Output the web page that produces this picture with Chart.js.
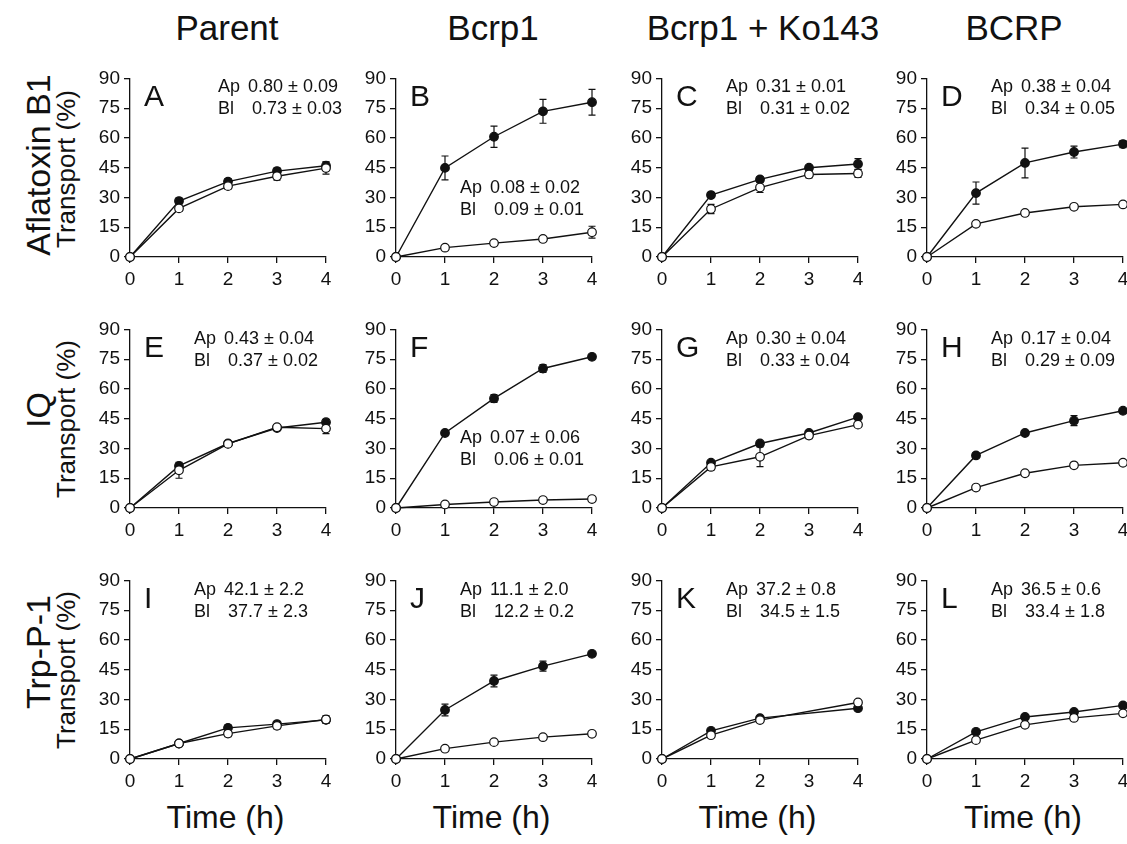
<!DOCTYPE html>
<html><head><meta charset="utf-8">
<script src="https://cdn.jsdelivr.net/npm/chart.js@4/dist/chart.umd.min.js"></script>
<style>
body{margin:0;background:#fff;width:1127px;height:844px;position:relative;overflow:hidden;font-family:"Liberation Sans",Arial,sans-serif;color:#111}
.t{position:absolute;white-space:nowrap;line-height:1;transform:translate(-50%,-50%)}
.r{transform:translate(-50%,-50%) rotate(-90deg)}
.panel{position:absolute}
</style></head><body>
<script>
// ---------------- data ----------------
const timeHours = [0, 1, 2, 3, 4];
const columnTitles = ['Parent', 'Bcrp1', 'Bcrp1 + Ko143', 'BCRP'];
const rowTitles = ['Aflatoxin B1', 'IQ', 'Trp-P-1'];
const yAxisTitle = 'Transport (%)';
const xAxisTitle = 'Time (h)';
const yTicks = [0, 15, 30, 45, 60, 75, 90];
const panelLetters = ['A','B','C','D','E','F','G','H','I','J','K','L'];
const apValues = ['0.80 \u00b1 0.09','0.08 \u00b1 0.02','0.31 \u00b1 0.01','0.38 \u00b1 0.04',
                  '0.43 \u00b1 0.04','0.07 \u00b1 0.06','0.30 \u00b1 0.04','0.17 \u00b1 0.04',
                  '42.1 \u00b1 2.2','11.1 \u00b1 2.0','37.2 \u00b1 0.8','36.5 \u00b1 0.6'];
const blValues = ['0.73 \u00b1 0.03','0.09 \u00b1 0.01','0.31 \u00b1 0.02','0.34 \u00b1 0.05',
                  '0.37 \u00b1 0.02','0.06 \u00b1 0.01','0.33 \u00b1 0.04','0.29 \u00b1 0.09',
                  '37.7 \u00b1 2.3','12.2 \u00b1 0.2','34.5 \u00b1 1.5','33.4 \u00b1 1.8'];

// filled circles / open circles, mean and error (% transport)
const A_filled = [0, 28.2, 38.0, 43.3, 46.0];   const A_filledErr = [0, 1.5, 1.5, 1.5, 2.0];
const A_open   = [0, 24.5, 35.7, 40.7, 44.8];   const A_openErr   = [0, 1.5, 1.5, 2.0, 3.0];
const B_filled = [0, 44.9, 60.6, 73.4, 78.0];   const B_filledErr = [0, 6.0, 5.4, 6.0, 6.5];
const B_open   = [0, 4.7, 7.0, 9.1, 12.5];      const B_openErr   = [0, 0.8, 0.8, 1.0, 3.0];
const C_filled = [0, 31.2, 39.1, 45.0, 46.9];   const C_filledErr = [0, 1.0, 1.2, 1.2, 2.7];
const C_open   = [0, 24.2, 35.0, 41.6, 42.1];   const C_openErr   = [0, 2.3, 2.5, 1.7, 2.0];
const D_filled = [0, 32.2, 47.4, 52.9, 56.9];   const D_filledErr = [0, 5.6, 7.5, 3.0, 1.8];
const D_open   = [0, 16.7, 22.2, 25.3, 26.5];   const D_openErr   = [0, 0.8, 0.8, 0.8, 0.8];
const E_filled = [0, 21.2, 32.5, 40.3, 43.2];   const E_filledErr = [0, 1.0, 1.0, 1.0, 1.5];
const E_open   = [0, 19.0, 32.3, 40.7, 40.0];   const E_openErr   = [0, 4.0, 1.0, 1.0, 2.5];
const F_filled = [0, 37.8, 55.2, 70.3, 76.2];   const F_filledErr = [0, 1.0, 2.0, 2.0, 1.0];
const F_open   = [0, 1.8, 3.0, 4.0, 4.5];       const F_openErr   = [0, 0.3, 0.3, 0.3, 0.3];
const G_filled = [0, 22.8, 32.5, 37.8, 45.8];   const G_filledErr = [0, 1.0, 1.0, 1.0, 1.0];
const G_open   = [0, 20.7, 25.8, 36.5, 42.0];   const G_openErr   = [0, 1.5, 5.0, 1.5, 1.0];
const H_filled = [0, 26.5, 37.8, 44.0, 49.0];   const H_filledErr = [0, 1.0, 1.0, 2.5, 1.0];
const H_open   = [0, 10.3, 17.5, 21.5, 22.8];   const H_openErr   = [0, 1.0, 1.0, 0.8, 0.8];
const I_filled = [0, 7.8, 15.7, 17.6, 19.7];    const I_filledErr = [0, 0.5, 1.5, 1.0, 1.5];
const I_open   = [0, 7.8, 12.8, 16.7, 19.9];    const I_openErr   = [0, 0.5, 1.5, 1.5, 2.0];
const J_filled = [0, 24.7, 39.3, 46.8, 53.0];   const J_filledErr = [0, 3.0, 3.0, 2.5, 1.0];
const J_open   = [0, 5.2, 8.5, 11.0, 12.7];     const J_openErr   = [0, 0.5, 0.5, 0.5, 0.5];
const K_filled = [0, 14.2, 20.6, null, 25.6];   const K_filledErr = [0, 0.8, 0.8, 0, 0.8];
const K_open   = [0, 12.0, 19.6, null, 28.5];   const K_openErr   = [0, 0.8, 0.8, 0, 0.8];
const L_filled = [0, 13.7, 21.2, 23.7, 27.0];   const L_filledErr = [0, 0.8, 0.8, 0.8, 0.8];
const L_open   = [0, 9.5, 17.2, 20.7, 23.0];    const L_openErr   = [0, 1.2, 0.8, 0.8, 0.8];

const filledSeries = [A_filled,B_filled,C_filled,D_filled,E_filled,F_filled,G_filled,H_filled,I_filled,J_filled,K_filled,L_filled];
const filledErrors = [A_filledErr,B_filledErr,C_filledErr,D_filledErr,E_filledErr,F_filledErr,G_filledErr,H_filledErr,I_filledErr,J_filledErr,K_filledErr,L_filledErr];
const openSeries   = [A_open,B_open,C_open,D_open,E_open,F_open,G_open,H_open,I_open,J_open,K_open,L_open];
const openErrors   = [A_openErr,B_openErr,C_openErr,D_openErr,E_openErr,F_openErr,G_openErr,H_openErr,I_openErr,J_openErr,K_openErr,L_openErr];

// ---------------- layout / style ----------------
const FONT = '"Liberation Sans", Arial, sans-serif';
const INK = '#111';
const colLeft = [129.5, 395.5, 661.5, 927];
const rowTop = [78, 329, 580.5];
const plotW = 196, plotH = 180;
const annoDX = [88,64,64,64, 64,64,64,64, 64,64,64,64];
const annoDY = [9,110,9,9, 10,109,10,10, 10,10,10,10];

function addText(txt, x, y, size, rot, extra){
  const d = document.createElement('div');
  d.className = 't' + (rot ? ' r' : '');
  d.textContent = txt;
  d.style.left = x + 'px'; d.style.top = y + 'px';
  d.style.fontSize = size + 'px';
  if (extra) Object.assign(d.style, extra);
  document.body.appendChild(d);
}

const titleX = [227, 493, 763, 1014];
columnTitles.forEach((t, c) => addText(t, titleX[c], 27, 35));
const rowLabelY = [165, 410, 652];
rowTitles.forEach((t, r) => addText(t, 38, rowLabelY[r], 34, true));
[169, 419, 670].forEach(y => addText(yAxisTitle, 66, y, 26, true));
colLeft.forEach(x => addText(xAxisTitle, x + plotW / 2 - 2, 817, 32));

const errorBars = {
  id: 'errorBars',
  beforeDatasetsDraw(chart) {
    const {ctx, scales: {x, y}} = chart;
    ctx.save();
    ctx.strokeStyle = INK; ctx.lineWidth = 1.2;
    chart.data.datasets.forEach(ds => {
      if (!ds.errors) return;
      ds.data.forEach((p, k) => {
        const e = ds.errors[k];
        if (p.y == null || !e) return;
        const px = x.getPixelForValue(p.x);
        const y1 = y.getPixelForValue(p.y + e), y2 = y.getPixelForValue(p.y - e);
        ctx.beginPath();
        ctx.moveTo(px, y1); ctx.lineTo(px, y2);
        ctx.moveTo(px - 3.5, y1); ctx.lineTo(px + 3.5, y1);
        ctx.moveTo(px - 3.5, y2); ctx.lineTo(px + 3.5, y2);
        ctx.stroke();
      });
    });
    ctx.restore();
  }
};

const annotations = {
  id: 'annotations',
  afterDraw(chart, args, opts) {
    const {ctx, chartArea: a} = chart;
    ctx.save();
    ctx.fillStyle = INK;
    ctx.textBaseline = 'middle';
    ctx.textAlign = 'left';
    ctx.font = '30px ' + FONT;
    ctx.fillText(opts.letter, a.left + 14, a.top + 19);
    ctx.font = '18px ' + FONT;
    const tx = a.left + opts.dx, ty = a.top + opts.dy;
    ctx.fillText('Ap', tx, ty);
    ctx.fillText(opts.ap, tx + 30, ty);
    ctx.fillText('Bl', tx, ty + 21.5);
    ctx.fillText(opts.bl, tx + 34, ty + 21.5);
    ctx.restore();
  }
};

function axisCfg(min, max, step, isX) {
  return {
    type: 'linear', min, max,
    ticks: {stepSize: step, color: INK, font: {family: FONT, size: 19}, padding: isX ? 5 : 4, maxRotation: 0, autoSkip: false},
    grid: {display: true, drawOnChartArea: false, drawTicks: true, tickLength: 6, color: INK, lineWidth: 1.3},
    border: {display: true, color: INK, width: 1.3},
    afterFit(s) { if (isX) s.height = 44; else s.width = 48; },
    afterBuildTicks(s) { if (!isX) s.ticks = yTicks.map(v => ({value: v})); }
  };
}

for (let i = 0; i < 12; i++) {
  const r = Math.floor(i / 4), c = i % 4;
  const W = 4 + 48 + plotW + 16, H = 14 + plotH + 44 + 4;
  const div = document.createElement('div'); div.className = 'panel';
  const cv = document.createElement('canvas');
  cv.width = W; cv.height = H; cv.style.width = W + 'px'; cv.style.height = H + 'px';
  div.appendChild(cv); document.body.appendChild(div);
  const chart = new Chart(cv, {
    type: 'line',
    data: {datasets: [
      {data: timeHours.map((x, k) => ({x, y: openSeries[i][k]})), errors: openErrors[i],
       borderColor: INK, borderWidth: 1.4, pointRadius: 4.3, pointBorderWidth: 1.2,
       pointBackgroundColor: '#fff', pointBorderColor: INK, tension: 0, spanGaps: true, clip: false},
      {data: timeHours.map((x, k) => ({x, y: filledSeries[i][k]})), errors: filledErrors[i],
       borderColor: INK, borderWidth: 1.4, pointRadius: 4.3, pointBorderWidth: 1.2,
       pointBackgroundColor: INK, pointBorderColor: INK, tension: 0, spanGaps: true, clip: false}
    ]},
    options: {
      responsive: false, animation: false, devicePixelRatio: 1,
      layout: {padding: {left: 4, top: 14, right: 16, bottom: 4}},
      plugins: {legend: {display: false}, tooltip: {enabled: false},
        annotations: {letter: panelLetters[i], ap: apValues[i], bl: blValues[i], dx: annoDX[i], dy: annoDY[i]}},
      scales: {x: axisCfg(0, 4, 1, true), y: axisCfg(0, 90, 15, false)}
    },
    plugins: [errorBars, annotations]
  });
  div.style.left = (colLeft[c] - chart.chartArea.left) + 'px';
  div.style.top = (rowTop[r] - chart.chartArea.top) + 'px';
}
</script>
</body></html>
